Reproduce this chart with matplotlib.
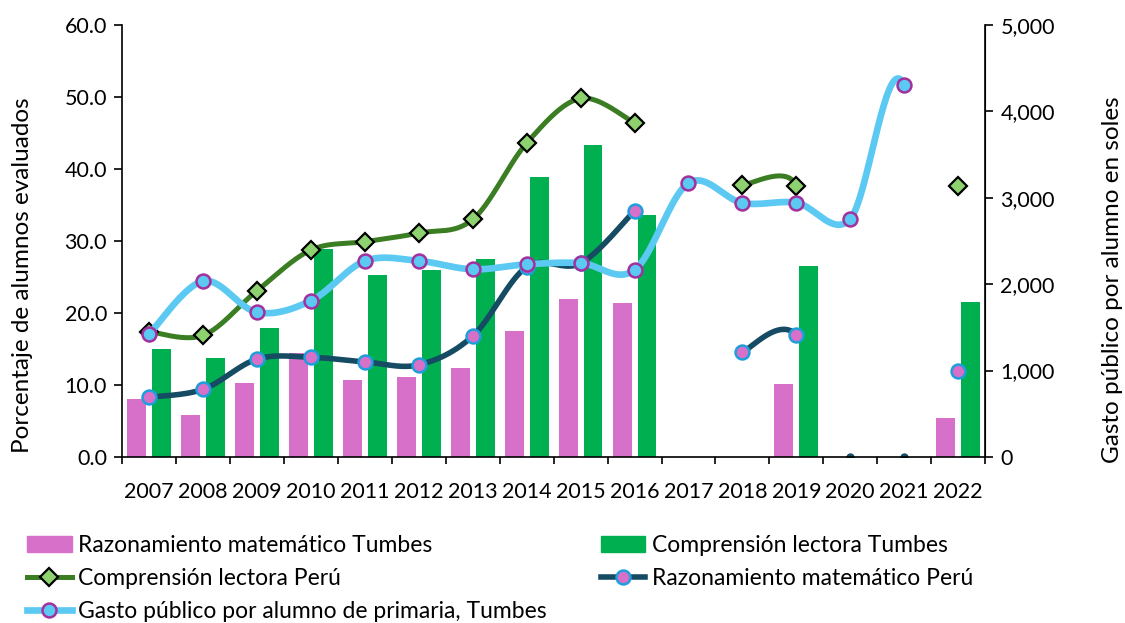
# Tumbes vs Peru: evaluated students (%) and public spending per pupil
import numpy as np
import matplotlib.pyplot as plt
from matplotlib.lines import Line2D
from matplotlib.patches import Patch

plt.rcParams['font.family'] = ['Lato', 'DejaVu Sans']
plt.rcParams['font.size'] = 15.5

years = list(range(2007, 2023))
raz_tumbes = [8.0, 5.8, 10.3, 14.4, 10.7, 11.1, 12.4, 17.5, 21.9, 21.4, None, None, 10.1, None, None, 5.4]
comp_tumbes = [15.0, 13.7, 17.9, 28.9, 25.3, 26.0, 27.5, 38.9, 43.3, 33.6, None, None, 26.5, None, None, 21.5]
comp_peru = [17.4, 16.9, 23.1, 28.75, 29.9, 31.1, 33.0, 43.6, 49.8, 46.4, None, 37.8, 37.6, 0, 0, 37.7]
raz_peru = [8.3, 9.4, 13.6, 13.85, 13.2, 12.8, 16.8, 26.4, 26.9, 34.2, None, 14.6, 17.0, 0, 0, 11.9]
gasto = [1424, 2037, 1674, 1809, 2269, 2269, 2172, 2230, 2245, 2164, 3171, 2940, 2943, 2755, 4306, 0]
peru_hidden = [2020, 2021]   # zeros kept in the sheet but not drawn
gasto_hidden = [2022]

labels = ["Razonamiento matemático Tumbes", "Comprensión lectora Perú",
          "Gasto público por alumno de primaria, Tumbes",
          "Comprensión lectora Tumbes", "Razonamiento matemático Perú"]

c_pink = '#D670C9'
c_green = '#00B050'
c_comp = '#3A7D22'
c_comp_mk = '#8DD26F'
c_raz = '#154B63'
c_raz_edge = '#1E9FDB'
c_gasto = '#5BC9F2'
c_gasto_edge = '#A2309E'


def nan(v):
    return np.array([np.nan if a is None else a for a in v], dtype=float)


def smooth(ax, xs, ys, show, cap=0.45):
    # excel-like smoothed line: cubic bezier through points, built in pixel space
    T = ax.transData
    n = len(xs)
    pts = [None if y is None else T.transform((x, y)) for x, y in zip(xs, ys)]
    runs, cur = [], []
    t = np.linspace(0, 1, 40)[:, None]
    for i in range(n - 1):
        if show[i] and show[i + 1] and pts[i] is not None and pts[i + 1] is not None:
            p1, p2 = pts[i], pts[i + 1]
            p0 = pts[i - 1] if i > 0 and pts[i - 1] is not None else p1
            p3 = pts[i + 2] if i + 2 < n and pts[i + 2] is not None else p2
            chord = np.hypot(*(p2 - p1))
            arms = []
            for a in ((p2 - p0) / 6, (p3 - p1) / 6):
                ln = np.hypot(*a)
                if ln > cap * chord:
                    a = a * cap * chord / ln
                arms.append(a)
            c1 = p1 + arms[0]
            c2 = p2 - arms[1]
            seg = (1 - t)**3 * p1 + 3 * (1 - t)**2 * t * c1 + 3 * (1 - t) * t**2 * c2 + t**3 * p2
            cur.append(seg if not cur else seg[1:])
        else:
            if cur:
                runs.append(np.vstack(cur))
                cur = []
    if cur:
        runs.append(np.vstack(cur))
    return [T.inverted().transform(r) for r in runs]


fig = plt.figure(figsize=(11.25, 6.23), dpi=100)
ax = fig.add_axes([0.1087, 0.2665, 0.7669, 0.6934])
ax2 = ax.twinx()

x = np.arange(len(years))
ax.set_xlim(-0.5, len(years) - 0.5)
ax.set_ylim(0, 60)
ax2.set_ylim(0, 5000)

ax.bar(x - 0.23, nan(raz_tumbes), width=0.35, color=c_pink, zorder=2)
ax.bar(x + 0.23, nan(comp_tumbes), width=0.35, color=c_green, zorder=2)

show_peru = [y not in peru_hidden for y in years]
show_gasto = [y not in gasto_hidden for y in years]

for r in smooth(ax, x, comp_peru, show_peru):
    ax.plot(r[:, 0], r[:, 1], color=c_comp, lw=3.6, zorder=3, solid_capstyle='round')
for r in smooth(ax, x, raz_peru, show_peru):
    ax.plot(r[:, 0], r[:, 1], color=c_raz, lw=4.0, zorder=4, solid_capstyle='round')
for r in smooth(ax2, x, gasto, show_gasto):
    ax2.plot(r[:, 0], r[:, 1], color=c_gasto, lw=4.8, zorder=3, solid_capstyle='round')

cp = nan(comp_peru)
rp = nan(raz_peru)
gp = nan(gasto)
sp = np.array(show_peru)
sg = np.array(show_gasto)
ax.plot(x[sp], cp[sp], ls='none', marker='D', ms=9, mfc=c_comp_mk, mec='black', mew=1.6, zorder=5)
ax.plot(x[sp], rp[sp], ls='none', marker='o', ms=10, mfc=c_pink, mec=c_raz_edge, mew=1.8, zorder=6)
ax.plot(x[~sp], rp[~sp], ls='none', marker='o', ms=5, color=c_raz, zorder=1)
ax2.plot(x[sg], gp[sg], ls='none', marker='o', ms=10, mfc=c_gasto, mec=c_gasto_edge, mew=1.8, zorder=5)

# axes styling
ax.spines['top'].set_visible(False)
ax2.spines['top'].set_visible(False)
for s in ('left', 'bottom'):
    ax.spines[s].set_linewidth(1.2)
ax2.spines['right'].set_linewidth(1.2)
ax2.spines['left'].set_visible(False)
ax2.spines['bottom'].set_visible(False)

ax.set_xticks(x)
ax.set_xticklabels([str(y) for y in years])
ax.set_xticks(np.arange(-0.5, len(years)), minor=True)
ax.tick_params(axis='x', which='major', length=0, pad=18)
ax.tick_params(axis='x', which='minor', length=5, width=1.2, direction='out')

ax.set_yticks(np.arange(0, 61, 10))
ax.set_yticklabels(['%.1f' % v for v in np.arange(0, 61, 10)])
ax.tick_params(axis='y', length=6, width=1.2, pad=5)
ax2.set_yticks(np.arange(0, 5001, 1000))
ax2.set_yticklabels(['{:,.0f}'.format(v) for v in np.arange(0, 5001, 1000)])
ax2.tick_params(axis='y', length=6, width=1.2, pad=5)

ax.set_ylabel("Porcentaje de alumnos evaluados", fontsize=17.5)
ax.yaxis.set_label_coords(-0.116, 0.42)
ax2.set_ylabel("Gasto público por alumno en soles", fontsize=17.5, rotation=90)
ax2.yaxis.set_label_coords(1.148, 0.41)
for lab in (ax.yaxis.label, ax2.yaxis.label):
    lab.set_ha('center')
    lab.set_va('center')
    lab.set_rotation_mode('anchor')

handles = [
    Patch(color=c_pink),
    Line2D([], [], color=c_comp, lw=3.6, marker='D', ms=9, mfc=c_comp_mk, mec='black', mew=1.6),
    Line2D([], [], color=c_gasto, lw=4.8, marker='o', ms=10, mfc=c_gasto, mec=c_gasto_edge, mew=1.8),
    Patch(color=c_green),
    Line2D([], [], color=c_raz, lw=4.0, marker='o', ms=10, mfc=c_pink, mec=c_raz_edge, mew=1.8),
]
fig.legend(handles, labels, ncol=2, loc='upper left', bbox_to_anchor=(0.024, 0.141),
           frameon=False, handlelength=1.96, handletextpad=0.27, columnspacing=2.35,
           labelspacing=0.52, borderpad=0, borderaxespad=0, fontsize=16.5)

plt.savefig('out.png', dpi=100)
